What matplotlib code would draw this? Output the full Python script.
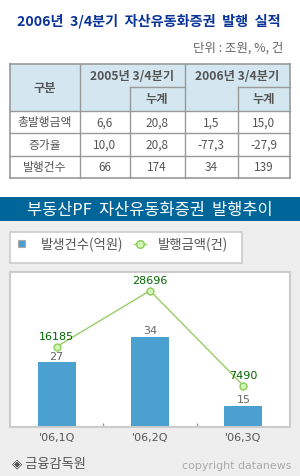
import matplotlib
matplotlib.use("Agg")
import matplotlib.pyplot as plt
from matplotlib.patches import Rectangle

plt.rcParams['font.family'] = ['Noto Sans CJK KR', 'DejaVu Sans']

# ---------------- data ----------------
title = "2006년  3/4분기  자산유동화증권  발행  실적"
unit_text = "단위 : 조원, %, 건"
table_header_top = ["구분", "2005년 3/4분기", "2006년 3/4분기"]
table_header_sub = ["누계", "누계"]
row_labels = ["총발행금액", "증가율", "발행건수"]
col_2005_q3 = ["6,6", "10,0", "66"]
col_2005_cum = ["20,8", "20,8", "174"]
col_2006_q3 = ["1,5", "-77,3", "34"]
col_2006_cum = ["15,0", "-27,9", "139"]

chart_title = "부동산PF  자산유동화증권  발행추이"
categories = ["'06,1Q", "'06,2Q", "'06,3Q"]
bar_values = [27, 34, 15]          # 발생건수(억원)
line_values = [16185, 28696, 7490]  # 발행금액(건)
bar_legend = "발생건수(억원)"
line_legend = "발행금액(건)"
source_text = "◈ 금융감독원"
copyright_text = "copyright datanews"

# ---------------- figure ----------------
W, H = 300, 477
fig = plt.figure(figsize=(W / 100, H / 100), dpi=100)
fig.patch.set_facecolor("white")

bg = fig.add_axes([0, 0, 1, 1])
bg.set_xlim(0, W)
bg.set_ylim(H, 0)
bg.axis("off")
bg.set_zorder(0)

TXT = "#555555"
# title
bg.text(149, 21.5, title, ha="center", va="center", fontsize=10.2, fontweight="bold",
        color="#0a3399")
bg.text(283, 48, unit_text, ha="right", va="center", fontsize=9, color="#666666")

# table
xs = [10, 80, 129.5, 185, 237.5, 289.5]
ys = [65, 88.3, 111.7, 134.2, 156.7, 179.3]
hdr_fill = "#d4e7f0"
line_c = "#999999"
bg.add_patch(Rectangle((xs[0], ys[0]), xs[-1] - xs[0], ys[2] - ys[0],
                       facecolor=hdr_fill, edgecolor="none"))
for i, y in enumerate(ys):
    if i == 1:
        for (a, b) in [(xs[2], xs[3]), (xs[4], xs[5])]:
            bg.plot([a, b], [y, y], color=line_c, lw=1)
    else:
        bg.plot([xs[0], xs[-1]], [y, y], color=line_c, lw=1.2 if i in (0, 5) else 1)
for i, x in enumerate(xs):
    if i in (2, 4):
        bg.plot([x, x], [ys[1], ys[-1]], color=line_c, lw=1)
    elif i in (1, 3):
        bg.plot([x, x], [ys[0], ys[-1]], color=line_c, lw=1)
    else:
        bg.plot([x, x], [ys[0], ys[-1]], color=line_c, lw=1.2)

hdr_fs = 8.8
bg.text((xs[0] + xs[1]) / 2, (ys[0] + ys[2]) / 2, table_header_top[0], ha="center",
        va="center", fontsize=hdr_fs, fontweight="bold", color=TXT)
bg.text((xs[1] + xs[3]) / 2, (ys[0] + ys[1]) / 2, table_header_top[1], ha="center",
        va="center", fontsize=hdr_fs, fontweight="bold", color=TXT)
bg.text((xs[3] + xs[5]) / 2, (ys[0] + ys[1]) / 2, table_header_top[2], ha="center",
        va="center", fontsize=hdr_fs, fontweight="bold", color=TXT)
bg.text((xs[2] + xs[3]) / 2, (ys[1] + ys[2]) / 2, table_header_sub[0], ha="center",
        va="center", fontsize=hdr_fs, fontweight="bold", color=TXT)
bg.text((xs[4] + xs[5]) / 2, (ys[1] + ys[2]) / 2, table_header_sub[1], ha="center",
        va="center", fontsize=hdr_fs, fontweight="bold", color=TXT)

cols = [row_labels, col_2005_q3, col_2005_cum, col_2006_q3, col_2006_cum]
for ci, col in enumerate(cols):
    cx = (xs[ci] + xs[ci + 1]) / 2
    for ri, val in enumerate(col):
        cy = (ys[ri + 2] + ys[ri + 3]) / 2
        bg.text(cx, cy, val, ha="center", va="center", fontsize=8.5, color=TXT)

# banner and gray area
bg.add_patch(Rectangle((0, 222), W, H - 222, facecolor="#eeeeee", edgecolor="none"))
bg.add_patch(Rectangle((0, 198), W, 24, facecolor="#006699", edgecolor="none"))
bg.text(150, 210.5, chart_title, ha="center", va="center", fontsize=11.8, color="white")

# legend box
bg.add_patch(Rectangle((10, 233), 232, 31, facecolor="white", edgecolor="#cccccc", lw=1.2))
bg.add_patch(Rectangle((17.5, 241), 7, 7, facecolor="#4a9fd0", edgecolor="#aaaaaa", lw=0.8))
bg.text(41, 244.5, bar_legend, ha="left", va="center", fontsize=9.6, color=TXT)
bg.plot([134, 146], [244.5, 244.5], color="#99cc66", lw=1)
bg.plot([140], [244.5], marker="o", markersize=5.5, markerfacecolor="#d2f5b4",
        markeredgecolor="#8ccc5c", markeredgewidth=1)
bg.text(158, 244.5, line_legend, ha="left", va="center", fontsize=9.6, color=TXT)

# footer
bg.text(12, 464, source_text, ha="left", va="center", fontsize=9.5, color=TXT)
bg.text(292, 466.5, copyright_text, ha="right", va="center", fontsize=7.9,
        color="#aaaaaa", family="DejaVu Sans")

# ---------------- chart ----------------
ax = fig.add_axes([10 / W, 1 - 428 / H, 280 / W, 155 / H])
ax.set_zorder(2)
ax.set_facecolor("white")
x = list(range(len(categories)))
ax.bar(x, bar_values, width=0.407, color="#4aa0d0", zorder=2)
ax.set_xlim(-0.5, len(categories) - 0.5)
ax.set_ylim(9.3, 51.8)
for xi, v in zip(x, bar_values):
    ax.annotate(str(v), (xi, v), xytext=(0, 5.0), textcoords="offset points",
                ha="center", va="center", fontsize=8, color="#666666",
                family="DejaVu Sans", zorder=3)
ax.set_xticks(x)
ax.set_xticklabels(categories, fontsize=8, color=TXT, family="DejaVu Sans")
ax.tick_params(axis="x", which="major", length=0, pad=3.5)
ax.set_xticks([0.5, 1.5], minor=True)
ax.tick_params(axis="x", which="minor", direction="in", length=3, color="#999999", width=1)
ax.set_yticks([])
for s in ax.spines.values():
    s.set_color("#cccccc")
    s.set_linewidth(1.5)

ax2 = ax.twinx()
ax2.plot(x, line_values, color="#99cc66", lw=1, marker="o", markersize=5,
         markerfacecolor="#d2f5b4", markeredgecolor="#8ccc5c", markeredgewidth=1, zorder=4)
ax2.set_ylim(-1755, 32875)
ax2.set_yticks([])
for s in ax2.spines.values():
    s.set_visible(False)
for xi, v in zip(x, line_values):
    ax2.annotate(str(v), (xi, v), xytext=(0, 7.9), textcoords="offset points",
                 ha="center", va="center", fontsize=8, color="#006600",
                 family="DejaVu Sans", zorder=5)

fig.savefig("out.png", dpi=100)
